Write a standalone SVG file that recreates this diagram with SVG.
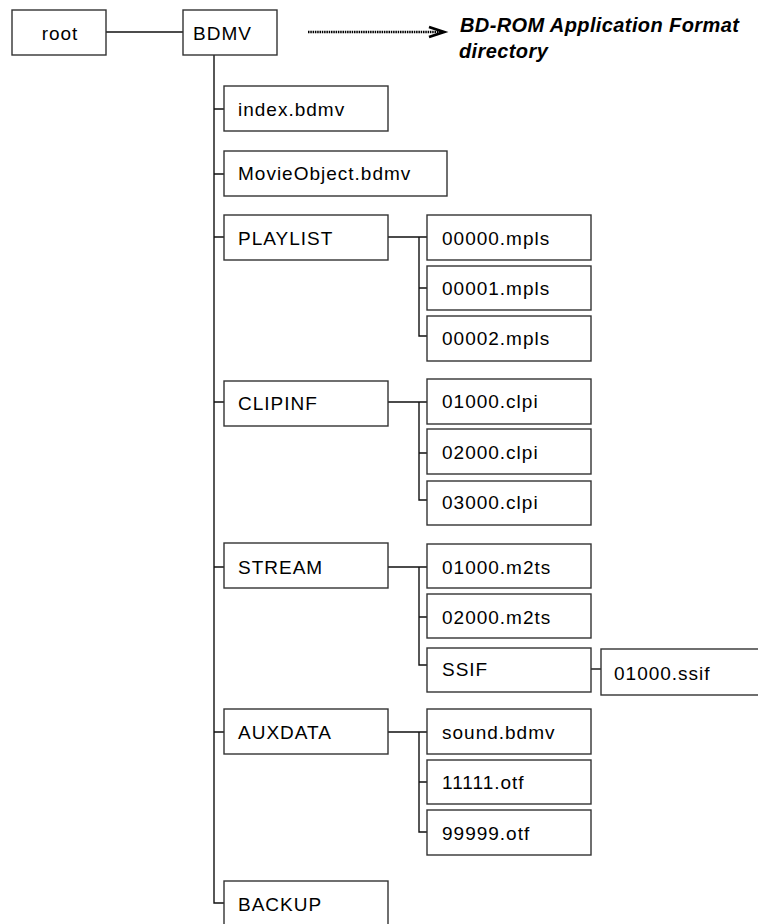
<svg xmlns="http://www.w3.org/2000/svg" width="758" height="924" viewBox="0 0 758 924">
<style>
.b{fill:#fff;stroke:#333;stroke-width:1.4}
.t{font-family:"Liberation Sans",Arial,sans-serif;font-size:19px;letter-spacing:1px;fill:#000}
.c{fill:none;stroke:#111;stroke-width:1.4}
.h{font-family:"Liberation Sans",Arial,sans-serif;font-size:20px;font-weight:bold;font-style:italic;letter-spacing:0.4px;fill:#000}
</style>
<rect width="758" height="924" fill="#fff"/>
<g id="connectors">
<path class="c" d="M106 32H183"/>
<path class="c" d="M214 55V903H224"/>
<path class="c" d="M214 109H224M214 174H224M214 237H224M214 402H224M214 567H224M214 732H224"/>
<path class="c" d="M388 237H427M419 237V336H427M419 288H427"/>
<path class="c" d="M388 402H427M419 402V500H427M419 453H427"/>
<path class="c" d="M388 567H427M419 567V665H427M419 617H427"/>
<path class="c" d="M591 669H601"/>
<path class="c" d="M388 732H427M419 732V832H427M419 782H427"/>
<path fill="none" stroke="#000" stroke-width="2.6" stroke-dasharray="1.5 0.8" d="M308 32H442"/>
<path fill="none" stroke="#000" stroke-width="2.8" d="M429 27L444 32L429 37"/>
</g>
<g id="root"><rect class="b" x="12" y="10" width="94" height="45"/><text class="t" x="60" y="40" text-anchor="middle">root</text></g>
<g id="BDMV"><rect class="b" x="183" y="10" width="94" height="45"/><text class="t" x="193" y="40">BDMV</text></g>
<g id="label"><text class="h" x="460" y="32">BD-ROM Application Format</text><text class="h" x="459" y="58">directory</text></g>
<g id="index"><rect class="b" x="224" y="86" width="164" height="45"/><text class="t" x="238" y="116">index.bdmv</text></g>
<g id="MovieObject"><rect class="b" x="224" y="151" width="223" height="45"/><text class="t" x="238" y="180">MovieObject.bdmv</text></g>
<g id="PLAYLIST"><rect class="b" x="224" y="215" width="164" height="45"/><text class="t" x="238" y="245">PLAYLIST</text></g>
<g id="mpls0"><rect class="b" x="427" y="215" width="164" height="45"/><text class="t" x="442" y="245">00000.mpls</text></g>
<g id="mpls1"><rect class="b" x="427" y="266" width="164" height="44"/><text class="t" x="442" y="295">00001.mpls</text></g>
<g id="mpls2"><rect class="b" x="427" y="316" width="164" height="45"/><text class="t" x="442" y="345">00002.mpls</text></g>
<g id="CLIPINF"><rect class="b" x="224" y="381" width="164" height="45"/><text class="t" x="238" y="410">CLIPINF</text></g>
<g id="clpi1"><rect class="b" x="427" y="379" width="164" height="45"/><text class="t" x="442" y="408">01000.clpi</text></g>
<g id="clpi2"><rect class="b" x="427" y="429" width="164" height="45"/><text class="t" x="442" y="459">02000.clpi</text></g>
<g id="clpi3"><rect class="b" x="427" y="481" width="164" height="44"/><text class="t" x="442" y="509">03000.clpi</text></g>
<g id="STREAM"><rect class="b" x="224" y="543" width="164" height="45"/><text class="t" x="238" y="574">STREAM</text></g>
<g id="m2ts1"><rect class="b" x="427" y="544" width="164" height="44"/><text class="t" x="442" y="574">01000.m2ts</text></g>
<g id="m2ts2"><rect class="b" x="427" y="594" width="164" height="44"/><text class="t" x="442" y="624">02000.m2ts</text></g>
<g id="SSIF"><rect class="b" x="427" y="648" width="164" height="44"/><text class="t" x="442" y="676">SSIF</text></g>
<g id="ssif"><rect class="b" x="601" y="649" width="160" height="46"/><text class="t" x="614" y="680">01000.ssif</text></g>
<g id="AUXDATA"><rect class="b" x="224" y="709" width="164" height="45"/><text class="t" x="238" y="739">AUXDATA</text></g>
<g id="sound"><rect class="b" x="427" y="709" width="164" height="45"/><text class="t" x="442" y="739">sound.bdmv</text></g>
<g id="otf1"><rect class="b" x="427" y="760" width="164" height="44"/><text class="t" x="442" y="789">11111.otf</text></g>
<g id="otf9"><rect class="b" x="427" y="810" width="164" height="45"/><text class="t" x="442" y="840">99999.otf</text></g>
<g id="BACKUP"><rect class="b" x="224" y="881" width="164" height="46"/><text class="t" x="238" y="911">BACKUP</text></g>
</svg>
